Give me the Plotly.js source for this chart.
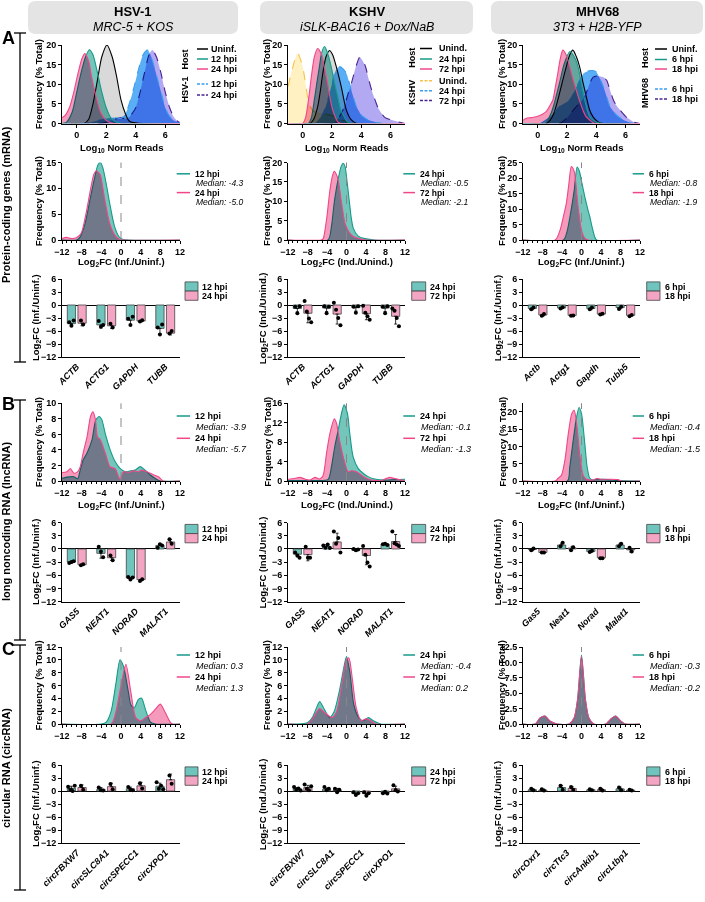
<!DOCTYPE html>
<html><head><meta charset="utf-8">
<script src="https://cdn.plot.ly/plotly-3.0.1.min.js"></script>
<style>
html,body{margin:0;padding:0;background:#fff;}
#chart{width:705px;height:902px;}
.js-fill{mix-blend-mode:multiply;}
</style></head><body><div id="chart"></div>
<script>
// ---------------- DATA ----------------
const virusNames = ['HSV-1','KSHV','MHV68'];
const cellLines = ['MRC-5 + KOS','iSLK-BAC16 + Dox/NaB','3T3 + H2B-YFP'];
const timeLabels = [['12 hpi','24 hpi'],['24 hpi','72 hpi'],['6 hpi','18 hpi']];
const refLabels = ['Uninf.','Unind.','Uninf.'];
const fcTitles = ['Log<sub>2</sub>FC (Inf./Uninf.)','Log<sub>2</sub>FC (Ind./Unind.)','Log<sub>2</sub>FC (Inf./Uninf.)'];
const medMRNA = [['-4.3','-5.0'],['-0.5','-2.1'],['-0.8','-1.9']];
const medLnc  = [['-3.9','-5.7'],['-0.1','-1.3'],['-0.4','-1.5']];
const medCirc = [['0.3','1.3'],['-0.4','0.2'],['-0.3','-0.2']];
const rowLabels = ['Protein-coding genes (mRNA)','long noncoding RNA (lncRNA)','circular RNA (circRNA)'];

// Row A, panel 1: Log10 normalized reads distributions
const hsvUninfX=[-1,0.5,0.8,1.1,1.4,1.7,2.05,2.4,2.7,3.0,3.3,3.6,7];
const hsvUninfY=[0,0,1,5,11,17,20,17,12,6,2.5,0.5,0];
const hsvH12X=[-1,-0.7,-0.3,0,0.3,0.6,0.85,1.1,1.4,1.7,2.0,2.3,2.7,3.2,7];
const hsvH12Y=[0,0.3,3,8,13,17,18.8,17.5,13,8,4,1.5,0.3,0,0];
const hsvH24X=[-1,-0.8,-0.5,-0.2,0.1,0.35,0.55,0.8,1.0,1.3,1.6,2.0,2.5,7];
const hsvH24Y=[1.5,2,4,8,13,16.5,17.8,16,12,7,3,0.8,0,0];
const hsvV12X=[-1,0.5,1.0,1.5,2.0,2.5,3.0,3.3,3.6,3.9,4.2,4.5,4.8,5.0,5.25,5.5,5.75,6.0,6.3,6.6,7];
const hsvV12Y=[0,0,0.3,0.8,1.2,1.5,1.3,2.5,5.5,9.5,14,17.5,18.7,17.5,14.5,11,7.5,4,1.8,0.7,0.2];
const hsvV24X=[-1,1.5,2.0,2.5,3.0,3.3,3.6,3.8,4.0,4.3,4.6,4.9,5.13,5.4,5.7,6.0,6.3,6.6,6.9,7];
const hsvV24Y=[0,0,0.3,1.0,1.5,1.2,1.8,2.8,4,8,13,17.5,18.7,17,13,8,4,1.5,0.4,0.2];

const kshvUnindX=[-1,0.5,0.75,1.03,1.2,1.38,1.6,1.84,2.05,2.3,2.64,2.99,3.33,3.7,7];
const kshvUnindY=[0,0,1,4.3,8,12.8,17,18.6,17.5,14.5,9.4,3.4,0.9,0,0];
const kshvH24X=[-1,0.4,0.6,0.8,1.0,1.15,1.3,1.5,1.7,1.95,2.2,2.4,2.6,2.85,3.1,7];
const kshvH24Y=[0,0,1.5,6,11,14.5,18,19.6,18,14.5,10,6.8,3.5,1.7,0.3,0];
const kshvH72X=[-1,0,0.2,0.4,0.6,0.8,1.03,1.3,1.5,1.72,1.9,2.06,2.25,2.4,2.6,7];
const kshvH72Y=[0,0,1.5,6,12,17,19.1,17.5,14,10,6,3.4,1.5,0.4,0,0];
const kshvVUnindX=[-1,-0.7,-0.34,0,0.23,0.46,0.8,1.26,1.95,2.4,2.85,3.3,7];
const kshvVUnindY=[9.4,14,17.9,14.5,9.4,4.7,3.0,2.6,2.1,1.3,0.7,0,0];
const kshvV24X=[-1,0.8,1.26,1.5,1.72,2.0,2.18,2.35,2.53,2.75,2.99,3.33,3.68,4.03,4.49,4.95,5.5,7];
const kshvV24Y=[0,0,1.7,3.5,6,10,12.8,14,14.5,14,12.8,8.5,4.3,2.1,0.9,0.4,0,0];
const kshvV72X=[-1,2.0,2.4,2.85,3.1,3.33,3.68,3.91,4.26,4.5,4.72,5.0,5.18,5.64,6.1,6.56,7];
const kshvV72Y=[0,0,1,4.3,7.5,10.2,14.9,16.9,14.9,11.5,8.5,5.5,3.8,1.5,0.9,0.4,0];

const mhvUninfX=[-1,0.6,0.85,1.1,1.38,1.65,1.96,2.2,2.41,2.65,2.87,3.1,3.33,3.55,3.79,4.14,4.5,7];
const mhvUninfY=[0,0,0.8,2.5,6,10,14.5,17.5,18.7,17,14.5,10.5,6.8,3.5,1.7,0.4,0,0];
const mhvH6X=[-1,0.5,0.92,1.2,1.49,1.8,2.19,2.5,2.76,3.0,3.22,3.56,4.0,4.5,7];
const mhvH6Y=[0,0,2.6,6,10.2,15,18.3,17,14.5,10,6,1.7,0.4,0,0];
const mhvH18X=[-1,-0.8,-0.4,-0.11,0.3,0.58,0.8,1.04,1.2,1.38,1.55,1.72,1.95,2.19,2.4,2.64,2.85,3.1,3.3,3.56,3.9,7];
const mhvH18Y=[0.8,1.3,1.5,1.7,2.3,3,4.3,6,9,12.8,16.5,18.7,17.5,14.5,11.5,8.5,6,3.4,1.8,0.9,0,0];
const mhvV6X=[-1,0.2,0.58,1.0,1.49,1.9,2.19,2.5,2.87,3.15,3.45,3.75,4.0,4.25,4.49,4.75,4.95,5.41,5.87,6.2,6.6,7];
const mhvV6Y=[0,0,0.9,2.2,4.3,5.3,6,8,11,12.8,13.4,13.5,13.2,11.5,9.4,6.5,4.3,2.1,0.9,0.4,0,0];
const mhvV18X=[-1,1.5,1.96,2.3,2.64,2.95,3.22,3.56,3.8,4.03,4.3,4.5,4.72,4.95,5.18,5.4,5.64,6.1,6.56,7];
const mhvV18Y=[0,0,1.3,2.8,4.3,5.5,6.8,10.2,11.8,12.1,12,11.8,11,8.5,6,4.5,3.4,1.5,0.4,0];

// Row A, panel 2: mRNA Log2FC distributions
const mHsv12X=[-12,-9,-8.3,-7.3,-6.3,-5.3,-4.7,-4.2,-3.7,-3.3,-2.8,-2.3,-1.3,-0.3,0.5,12];
const mHsv12Y=[0,0,0.6,3.2,7.8,12.3,14.5,15,14,12.3,9.8,7.1,2.6,0.5,0.1,0];
const mHsv24X=[-12,-11.1,-10.1,-9.1,-8.1,-7.1,-6.1,-5.5,-5.0,-4.5,-4.2,-3.3,-2.3,-1.3,-0.3,0.5,12];
const mHsv24Y=[0.3,0.5,0.3,0.45,1.3,5.2,10.3,12.8,13.4,13,12.6,7.8,3.2,1,0.1,0,0];
const mKshv24X=[-12,-3.8,-3.1,-2.45,-1.6,-1.1,-0.7,-0.3,0,0.35,0.7,1.0,1.4,2.4,3.8,5.8,12];
const mKshv24Y=[0,0,3.4,10.3,16.4,19,19.8,19,16.4,12.5,8.6,5.5,3,1,0.35,0,0];
const mKshv72X=[-12,-5.2,-4.8,-4.1,-3.4,-2.9,-2.5,-2.1,-1.7,-1.0,-0.3,0.7,1.7,3.1,4,12];
const mKshv72Y=[0,0,0.3,5.2,12.9,16.5,17.7,17,15.5,9.5,4.3,1.7,0.7,0.2,0,0];
const mMhv6X=[-12,-3.7,-3.0,-2.2,-1.5,-0.9,-0.4,0.0,0.67,1.2,1.7,2.2,2.7,3.1,12];
const mMhv6Y=[0,0,2.5,9,16,23.5,22,19,14,10.5,7.5,4,1.1,0,0];
const mMhv18X=[-12,-5.4,-4.4,-3.8,-3.1,-2.6,-2.1,-1.7,-1.4,-0.7,0,0.7,1.3,12];
const mMhv18Y=[0,0,3.2,7,11.9,18,23.7,23,21.5,10.8,3.2,0.5,0,0];

// Row B, panel 1: lncRNA Log2FC distributions
const lHsv12X=[-12,-11,-9.6,-8.8,-8.3,-7.7,-6.9,-5.9,-5.1,-4.4,-3.9,-3.2,-2.2,-1.2,-0.15,0.9,1.9,2.9,3.9,4.9,5.9,6.9,8,12];
const lHsv12Y=[0.35,0.5,0.55,0.3,1.4,2.7,3.6,5.3,7.9,8.3,7.9,6.1,4,2.5,1.6,1.2,1.3,1.4,1.85,1.4,0.8,0.35,0,0];
const lHsv24X=[-12,-11,-10.3,-9.6,-8.8,-8.3,-7.7,-6.9,-6.2,-5.7,-5.2,-4.8,-4.2,-3.2,-2.2,-1.2,-0.5,-0.15,0.5,1.5,2.5,3.6,4.2,5.3,6.6,7.6,8.6,12];
const lHsv24Y=[1.1,1.2,1.6,1.0,1.2,1.8,3.6,5.7,8.3,8.9,7.9,5.7,5.3,3.6,1.8,1.6,0.55,0.2,1.2,1.1,1.3,1.2,1.4,1.2,0.8,0.55,0,0];
const lKshv24X=[-12,-6,-3.76,-3.08,-2.4,-1.7,-1.03,-0.49,0.19,0.67,1.35,2.38,3.4,4.43,5.79,7.84,10,12];
const lKshv24Y=[0.1,0.1,0.35,3.0,7.1,10.5,13.9,15.7,13.9,9.8,5.0,2.6,1.6,0.9,0.4,0.2,0.3,0.35];
const lKshv72X=[-12,-10.57,-9.55,-8.53,-7.5,-6.48,-5.46,-4.78,-4.1,-3.4,-2.5,-2.05,-1.37,-0.49,0.33,1.0,2.04,3.06,4.08,5.1,7.15,8.2,8.86,9.88,11.25,12];
const lKshv72Y=[0.35,0.55,0.75,0.4,0.2,0.75,0.4,1.2,5.7,9.8,12.8,11.9,8.1,4.3,1.9,2.1,1.9,1.2,0.55,0.2,0.1,0.55,0.75,0.5,0.2,0.1];
const lMhv6X=[-12,-2.9,-2.4,-1.7,-1.0,-0.5,0.0,0.67,1.15,1.7,2.4,3.4,4.4,5.8,7.8,12];
const lMhv6Y=[0,0,4.1,11.8,18.6,21.3,19.5,10.9,4.1,0.8,0.3,0.5,0.5,0.3,0.1,0];
const lMhv18X=[-12,-5.4,-4.8,-4.1,-3.4,-2.7,-2.0,-1.5,-1.0,-0.3,0.33,1.0,2.4,3.1,4.1,5.8,7.5,8.2,12];
const lMhv18Y=[0,0,0.8,1.7,6.1,13.8,19.5,20.5,16.6,7.0,1.7,0.5,0.3,0.7,0.5,0.5,0.4,0,0];

// Row C, panel 1: circRNA Log2FC distributions
const cHsv12X=[-12,-4,-3,-2,-1,-0.2,0.5,1.5,2,2.7,3.5,4.2,5,6,7,12];
const cHsv12Y=[0,0,0.3,2,6.5,10,9,5,3,2.5,3.8,4,2.2,0.3,0,0];
const cHsv24X=[-12,-2,-1,0,1,2,3,4,5,6,7,8,9,10,10.5,12];
const cHsv24Y=[0,0,2,6,9.3,5,1,0.5,1.0,1.5,2.3,3.1,1.8,0.3,0,0];
const cKshv24X=[-12,-8,-7,-6,-5.5,-4.5,-3.5,-2.5,-1.5,-0.5,0,0.7,1.5,2.5,3.5,4.5,5.5,7,12];
const cKshv24Y=[0,0.2,1,2.8,3.5,2.2,1,2,5,9,10.5,8,3,1,0.5,1,0.5,0,0];
const cKshv72X=[-12,-8,-7,-6,-5.5,-4.5,-3,-2,-1,0,0.5,1.2,2,3,4,5,6,12];
const cKshv72Y=[0,0,0.8,2,2.4,1.8,1,2,6,10,10.3,7,2.5,0.5,0.8,0.5,0,0];
const cMhv6X=[-12,-9.5,-8.5,-7.5,-6.5,-5,-2.5,-1.5,-0.8,0,0.8,1.5,2.5,5,6,7,8,9,12];
const cMhv6Y=[0,0,1,1.3,0.5,0,0,1,4,11.2,4,1,0,0,0.8,1.3,0.5,0,0];
const cMhv18X=[-12,-9.5,-8.5,-7.5,-6.5,-5,-2.5,-1.5,-0.8,0,0.8,1.5,2.5,5,6,7,8,9,12];
const cMhv18Y=[0,0,1,1.3,0.5,0,0,1,4,11,4,1,0,0,0.8,1.3,0.5,0,0];

// Bar charts (mean, replicates, SD)
const mrnaCats=[['ACTB','ACTG1','GAPDH','TUBB'],['ACTB','ACTG1','GAPDH','TUBB'],['Actb','Actg1','Gapdh','Tubb5']];
const mrnaMean1=[[-4.3,-4.6,-3.5,-5.4],[-0.8,-0.7,-0.6,-0.7],[-0.8,-0.7,-0.8,-0.6]];
const mrnaMean2=[[-4.2,-4.8,-3.7,-6.5],[-1.9,-2.1,-2.0,-2.6],[-2.3,-2.4,-2.1,-2.4]];
const mrnaRep1=[[[-4.0,-4.8,-3.6],[-3.7,-5.0,-4.6],[-3.2,-4.6,-2.7],[-5.2,-6.8,-4.5]],
  [[-0.4,-1.9,-0.3],[-0.3,-1.9,-0.4],[-0.4,-1.8,-0.3],[-0.4,-1.9,-0.3]],
  [[-1.0,-0.6],[-0.8,-0.5],[-1.0,-0.6],[-0.9,-0.4]]];
const mrnaRep2=[[[-3.6,-4.5],[-4.3,-5.2],[-3.8,-3.5],[-6.6,-6.0]],
  [[0.9,-1.5,-3.1,-4.0],[0.5,-1.1,-3.0,-4.7],[-0.2,-1.8,-2.6,-3.4],[-0.8,-1.3,-3.0,-4.9]],
  [[-2.5,-2.1],[-2.5,-2.4],[-2.2,-2.0],[-2.6,-2.3]]];
const mrnaSd1=[[0.6,0.7,1.0,1.2],[0.8,0.8,0.8,0.8],[0.3,0.2,0.3,0.3]];
const mrnaSd2=[[0.6,0.6,0.2,0.4],[2.2,2.3,1.4,1.8],[0.3,0.1,0.1,0.2]];

const lncCats=[['GAS5','NEAT1','NORAD','MALAT1'],['GAS5','NEAT1','NORAD','MALAT1'],['Gas5','Neat1','Norad','Malat1']];
const lncMean1=[[-3.0,-1.0,-6.6,0.8],[-1.2,0.6,-0.3,1.1],[-0.1,0.9,-0.6,0.9]];
const lncMean2=[[-3.6,-2.0,-7.0,1.6],[-1.3,1.6,-1.5,1.7],[-0.8,0.2,-2.0,-0.2]];
const lncRep1=[[[-3.2,-3.0,-2.8],[0.5,-0.6,-1.9],[-6.4,-7.0,-6.5],[0.3,1.1,0.8]],
  [[-0.8,-1.5,-2.0],[0.8,0.3,1.0,0.2],[0.0,-0.3,-0.1],[1.1,1.2,0.9]],
  [[-0.3,0.1],[0.6,1.4],[-0.7,-0.4],[0.6,1.2]]];
const lncRep2=[[[-3.7,-3.5],[-1.5,-2.6],[-7.3,-6.9],[2.2,1.2]],
  [[0.5,-2.0,-2.0],[4.0,1.2,2.5,-0.8],[0.7,-1.3,-3.1,-4.0],[4.0,1.3,1.0,0.7]],
  [[-0.8,-0.8],[-0.3,0.4],[-2.1,-2.1],[0.3,-0.6]]];
const lncSd1=[[0.2,1.1,0.3,0.4],[0.6,0.4,0.2,0.2],[0.3,0.4,0.2,0.4]];
const lncSd2=[[0.1,0.6,0.3,0.6],[1.4,2.0,2.1,1.6],[0.1,0.4,0.1,0.5]];

const circCats=[['circFBXW7','circSLC8A1','circSPECC1','circXPO1'],['circFBXW7','circSLC8A1','circSPECC1','circXPO1'],['circOxr1','circTtc3','circAnkib1','circLtbp1']];
const circMean1=[[0.6,0.4,0.5,1.1],[0.5,0.4,-0.6,-0.4],[0.3,0.8,0.3,0.5]];
const circMean2=[[0.8,1.0,1.2,2.6],[0.8,0.2,-0.6,0.5],[0.2,0.6,0.3,0.2]];
const circRep1=[[[1.0,0.3,0.0,1.2],[0.8,0.2,0.1],[0.9,0.3,0.2],[2.0,0.5,1.2,0.4]],
  [[0.9,0.3,0.6,0.1],[0.9,0.2,0.5],[-0.3,-0.9,-0.5],[-0.5,-0.2,-0.6]],
  [[0.5,0.2],[1.2,0.3],[0.4,0.2],[0.8,0.2]]];
const circRep2=[[[1.2,0.3],[1.6,0.4],[1.8,0.6],[3.6,1.7]],
  [[1.5,0.5,0.2,1.1],[0.5,-0.3,0.3],[-0.3,-1.1,-0.5],[1.3,0.2,-0.1]],
  [[0.4,0.1],[0.9,0.3],[0.5,0.1],[0.3,0.1]]];
const circSd1=[[0.5,0.4,0.4,0.7],[0.3,0.3,0.3,0.2],[0.2,0.5,0.1,0.4]];
const circSd2=[[0.6,0.8,0.8,1.3],[0.5,0.4,0.4,0.6],[0.2,0.4,0.3,0.1]];

// ---------------- STYLE ----------------
const FONT='"Liberation Sans", Arial, sans-serif';
const W=705, H=902;
const C = {
  black:'#000000', gray:'#d9d9d9',
  teal:'#179a8b', tealFill:'#74c6bb',
  pink:'#f0478a', pinkFill:'#f59abb',
  blue:'#3a9ff0', blueFill:'#5aaef5',
  purple:'#4a2490', purpleFill:'#b3a8f2',
  yellow:'#f7c24a', yellowFill:'#fff1c1',
  tealBar:'#6fc5bd', pinkBar:'#f5a5c4'
};
const colX=[[62,180],[288,405],[523,640]];
const rowY={A1:[45,123.5],A2:[162.5,240],A3:[279,357],B1:[403.3,481],B2:[522.7,601.5],C1:[647,724],C2:[765,843]};

const P=x=>x/W, Q=y=>1-y/H;
const traces=[], shapes=[], annotations=[];
const layout={width:W,height:H,margin:{l:0,r:0,t:0,b:0},paper_bgcolor:'#fff',plot_bgcolor:'rgba(0,0,0,0)',
  showlegend:false,barmode:'overlay',font:{family:FONT,color:'#000'}};
const tickF={family:FONT,size:9,color:'#000',weight:'bold'};
const axBase={showline:true,linecolor:'#000',linewidth:1,ticks:'outside',ticklen:3,tickwidth:1,tickcolor:'#000',
  showgrid:false,zeroline:false,tickfont:tickF,fixedrange:true};

let nAx=0;
function newPanel(col,row,xo,yo){
  nAx++; const s=nAx===1?'':String(nAx);
  layout['xaxis'+s]=Object.assign({},axBase,{domain:[P(colX[col][0]),P(colX[col][1])],anchor:'y'+s},xo);
  layout['yaxis'+s]=Object.assign({},axBase,{domain:[Q(rowY[row][1]),Q(rowY[row][0])],anchor:'x'+s},yo);
  return {x:'x'+s,y:'y'+s};
}
function txt(x,y,text,o){
  const a=Object.assign({xref:'paper',yref:'paper',x:P(x),y:Q(y),text:text,showarrow:false,xanchor:'left',yanchor:'middle',
    font:{family:FONT,size:9,color:'#000',weight:'bold'}},o||{});
  annotations.push(a);
}
function pline(x0,y0,x1,y1,color,width,dash){
  shapes.push({type:'line',xref:'paper',yref:'paper',x0:P(x0),y0:Q(y0),x1:P(x1),y1:Q(y1),line:{color:color,width:width||1,dash:dash||'solid'}});
}
function prect(x0,y0,x1,y1,fill,lc){
  shapes.push({type:'rect',xref:'paper',yref:'paper',x0:P(x0),y0:Q(y1),x1:P(x1),y1:Q(y0),fillcolor:fill,line:{color:lc,width:0.8}});
}
function roundBox(x0,y0,x1,y1,r,fill){
  const X=v=>P(v).toFixed(5), Y=v=>Q(v).toFixed(5);
  const path=`M ${X(x0+r)},${Y(y0)} L ${X(x1-r)},${Y(y0)} Q ${X(x1)},${Y(y0)} ${X(x1)},${Y(y0+r)} L ${X(x1)},${Y(y1-r)} Q ${X(x1)},${Y(y1)} ${X(x1-r)},${Y(y1)} L ${X(x0+r)},${Y(y1)} Q ${X(x0)},${Y(y1)} ${X(x0)},${Y(y1-r)} L ${X(x0)},${Y(y0+r)} Q ${X(x0)},${Y(y0)} ${X(x0+r)},${Y(y0)} Z`;
  shapes.push({type:'path',xref:'paper',yref:'paper',path:path,fillcolor:fill,line:{width:0},layer:'below'});
}
function yTitle(x,row,text){
  const [t,b]=rowY[row];
  txt(x,(t+b)/2,text,{xanchor:'center',textangle:-90,font:{family:FONT,size:9.5,color:'#000',weight:'bold'}});
}

function densPanel(col,row,xo,yo,series){
  const ax=newPanel(col,row,xo,yo);
  series.forEach(s=>{
    traces.push({type:'scatter',mode:'lines',x:s.x,y:s.y,xaxis:ax.x,yaxis:ax.y,fill:'tozeroy',fillcolor:s.fill,
      line:{color:s.line,width:1.1,dash:s.dash||'solid',shape:'spline',smoothing:0.7},hoverinfo:'skip'});
  });
  return ax;
}
function zeroDash(ax){
  shapes.push({type:'line',xref:ax.x,yref:ax.y+' domain',x0:0,x1:0,y0:0,y1:1,line:{color:'#888',width:1,dash:'dash'}});
}
const fcX={range:[-12,12],tickvals:[-12,-8,-4,0,4,8,12],minor:{dtick:1,ticks:'outside',ticklen:2,tickcolor:'#000'}};

function barPanel(col,row,cats,m1,r1,e1,m2,r2,e2){
  const ax=newPanel(col,row,
    {range:[-0.5,3.5],tickvals:[0,1,2,3],ticktext:cats,tickangle:-45,ticks:'',
     tickfont:{family:FONT,size:9,color:'#000',weight:'bold',style:'italic'}},
    {range:[-12,6],tickvals:[-12,-9,-6,-3,0,3,6],zeroline:true,zerolinecolor:'#000',zerolinewidth:1});
  const off=0.18, bw=0.28, jit=0.075;
  [[m1,r1,e1,C.tealBar,-off],[m2,r2,e2,C.pinkBar,off]].forEach(([m,r,e,color,o])=>{
    traces.push({type:'bar',x:cats.map((c,i)=>i+o),y:m,width:bw,xaxis:ax.x,yaxis:ax.y,
      marker:{color:color,line:{color:'#444',width:0.8}},hoverinfo:'skip',
      error_y:{type:'data',symmetric:false,array:m.map((v,i)=>v>=0?e[i]:0),arrayminus:m.map((v,i)=>v<0?e[i]:0),
        color:'#000',thickness:0.8,width:1.5}});
    const xs=[],ys=[];
    r.forEach((reps,i)=>reps.forEach((v,j)=>{xs.push(i+o+(j-(reps.length-1)/2)*jit);ys.push(v);}));
    traces.push({type:'scatter',mode:'markers',x:xs,y:ys,xaxis:ax.x,yaxis:ax.y,
      marker:{color:'#000',size:4},hoverinfo:'skip'});
  });
  return ax;
}

// ---------------- BUILD ----------------
const boxX=[[28,238],[260,473],[491,703]];
for(let c=0;c<3;c++){
  roundBox(boxX[c][0],1,boxX[c][1],34,8,'#e4e4e4');
  const cx=(boxX[c][0]+boxX[c][1])/2;
  txt(cx,11,virusNames[c],{xanchor:'center',font:{family:FONT,size:13,color:'#000',weight:'bold'}});
  txt(cx,26.5,cellLines[c],{xanchor:'center',font:{family:FONT,size:12.5,color:'#000',style:'italic'}});
}

const a1y={range:[0,20],tickvals:[0,5,10,15,20]};
const a1x={range:[-1,7],tickvals:[0,2,4,6]};
densPanel(0,'A1',a1x,a1y,[
  {x:hsvUninfX,y:hsvUninfY,line:C.black,fill:C.gray},
  {x:hsvV24X,y:hsvV24Y,line:C.purple,fill:C.purpleFill,dash:'dash'},
  {x:hsvV12X,y:hsvV12Y,line:C.blue,fill:C.blueFill,dash:'dash'},
  {x:hsvH12X,y:hsvH12Y,line:C.teal,fill:C.tealFill},
  {x:hsvH24X,y:hsvH24Y,line:C.pink,fill:C.pinkFill}]);
densPanel(1,'A1',a1x,a1y,[
  {x:kshvVUnindX,y:kshvVUnindY,line:C.yellow,fill:C.yellowFill,dash:'dash'},
  {x:kshvUnindX,y:kshvUnindY,line:C.black,fill:C.gray},
  {x:kshvV72X,y:kshvV72Y,line:C.purple,fill:C.purpleFill,dash:'dash'},
  {x:kshvV24X,y:kshvV24Y,line:C.blue,fill:C.blueFill,dash:'dash'},
  {x:kshvH24X,y:kshvH24Y,line:C.teal,fill:C.tealFill},
  {x:kshvH72X,y:kshvH72Y,line:C.pink,fill:C.pinkFill}]);
densPanel(2,'A1',a1x,a1y,[
  {x:mhvUninfX,y:mhvUninfY,line:C.black,fill:C.gray},
  {x:mhvV18X,y:mhvV18Y,line:C.purple,fill:C.purpleFill,dash:'dash'},
  {x:mhvV6X,y:mhvV6Y,line:C.blue,fill:C.blueFill,dash:'dash'},
  {x:mhvH6X,y:mhvH6Y,line:C.teal,fill:C.tealFill},
  {x:mhvH18X,y:mhvH18Y,line:C.pink,fill:C.pinkFill}]);

const a2ymax=[15,20,25];
const a2data=[[mHsv12X,mHsv12Y,mHsv24X,mHsv24Y],[mKshv24X,mKshv24Y,mKshv72X,mKshv72Y],[mMhv6X,mMhv6Y,mMhv18X,mMhv18Y]];
for(let c=0;c<3;c++){
  const d=a2data[c];
  const ax=densPanel(c,'A2',fcX,{range:[0,a2ymax[c]],dtick:5},[
    {x:d[0],y:d[1],line:C.teal,fill:C.tealFill},{x:d[2],y:d[3],line:C.pink,fill:C.pinkFill}]);
  zeroDash(ax);
}
for(let c=0;c<3;c++) barPanel(c,'A3',mrnaCats[c],mrnaMean1[c],mrnaRep1[c],mrnaSd1[c],mrnaMean2[c],mrnaRep2[c],mrnaSd2[c]);

const b1y=[{range:[0,10],dtick:2},{range:[0,16],dtick:4},{range:[0,22.5],tickvals:[0,5,10,15,20]}];
const b1data=[[lHsv12X,lHsv12Y,lHsv24X,lHsv24Y],[lKshv24X,lKshv24Y,lKshv72X,lKshv72Y],[lMhv6X,lMhv6Y,lMhv18X,lMhv18Y]];
for(let c=0;c<3;c++){
  const d=b1data[c];
  const ax=densPanel(c,'B1',fcX,b1y[c],[
    {x:d[0],y:d[1],line:C.teal,fill:C.tealFill},{x:d[2],y:d[3],line:C.pink,fill:C.pinkFill}]);
  zeroDash(ax);
}
for(let c=0;c<3;c++) barPanel(c,'B2',lncCats[c],lncMean1[c],lncRep1[c],lncSd1[c],lncMean2[c],lncRep2[c],lncSd2[c]);

const c1y=[{range:[0,12],dtick:2},{range:[0,12],dtick:2},{range:[0,12.5],dtick:2.5,tickformat:'.1f'}];
const c1data=[[cHsv12X,cHsv12Y,cHsv24X,cHsv24Y],[cKshv24X,cKshv24Y,cKshv72X,cKshv72Y],[cMhv6X,cMhv6Y,cMhv18X,cMhv18Y]];
for(let c=0;c<3;c++){
  const d=c1data[c];
  const ax=densPanel(c,'C1',fcX,c1y[c],[
    {x:d[0],y:d[1],line:C.teal,fill:C.tealFill},{x:d[2],y:d[3],line:C.pink,fill:C.pinkFill}]);
  zeroDash(ax);
}
for(let c=0;c<3;c++) barPanel(c,'C2',circCats[c],circMean1[c],circRep1[c],circSd1[c],circMean2[c],circRep2[c],circSd2[c]);

// ---------------- AXIS TITLES ----------------
const freqX=[38,266.7,501.7], fcTX=[36,263.3,498.3];
for(let c=0;c<3;c++){
  ['A1','A2','B1','C1'].forEach(r=>yTitle(freqX[c],r,'Frequency (% Total)'));
  ['A3','B2','C2'].forEach(r=>yTitle(fcTX[c],r,fcTitles[c]));
  const cx=(colX[c][0]+colX[c][1])/2;
  const tf={xanchor:'center',font:{family:FONT,size:9.5,color:'#000',weight:'bold'}};
  txt(cx,148,'Log<sub>10</sub> Norm Reads',tf);
  txt(cx,262,fcTitles[c],tf);
  txt(cx,505,fcTitles[c],tf);
}

// ---------------- LEGENDS ----------------
const a1leg=[
  {lx:[197,208],tx:209,rot:184.5,hostY:60,virY:90,ys:[49,59,69,84,95],
   items:[[refLabels[0],C.black,'solid'],[timeLabels[0][0],C.teal,'solid'],[timeLabels[0][1],C.pink,'solid'],[timeLabels[0][0],C.blue,'dash'],[timeLabels[0][1],C.purple,'dash']]},
  {lx:[420,432],tx:437,rot:411.7,hostY:58,virY:92,ys:[48.5,59,69,80.7,90.7,100.5],
   items:[[refLabels[1],C.black,'solid'],[timeLabels[1][0],C.teal,'solid'],[timeLabels[1][1],C.pink,'solid'],[refLabels[1],C.yellow,'dash'],[timeLabels[1][0],C.blue,'dash'],[timeLabels[1][1],C.purple,'dash']]},
  {lx:[655,667],tx:669.5,rot:645,hostY:58,virY:93,ys:[49,59.5,69,89,99],
   items:[[refLabels[2],C.black,'solid'],[timeLabels[2][0],C.teal,'solid'],[timeLabels[2][1],C.pink,'solid'],[timeLabels[2][0],C.blue,'dash'],[timeLabels[2][1],C.purple,'dash']]}
];
a1leg.forEach((g,c)=>{
  g.items.forEach((it,i)=>{pline(g.lx[0],g.ys[i],g.lx[1],g.ys[i],it[1],1.5,it[2]==='dash'?'3px,1.5px':'solid');txt(g.tx,g.ys[i],it[0]);});
  txt(g.rot,g.hostY,'Host',{xanchor:'center',textangle:-90});
  txt(g.rot,g.virY,virusNames[c],{xanchor:'center',textangle:-90});
});
const medLegX=[[176.7,190,193],[403.3,415,418.3],[632.7,644,646.7]];
function medLegend(c,ys,meds,fs){
  const [l0,l1,tx]=medLegX[c];
  const bf={family:FONT,size:fs,color:'#000',weight:'bold'}, itf={family:FONT,size:fs,color:'#000',style:'italic'};
  pline(l0,ys[0],l1,ys[0],C.teal,1.5); txt(tx,ys[0],timeLabels[c][0],{font:bf});
  txt(tx+1,ys[1],'Median: '+meds[0],{font:itf});
  pline(l0,ys[2],l1,ys[2],C.pink,1.5); txt(tx,ys[2],timeLabels[c][1],{font:bf});
  txt(tx+1,ys[3],'Median: '+meds[1],{font:itf});
}
for(let c=0;c<3;c++){
  medLegend(c,[173.8,183.2,192.6,202],medMRNA[c],8.5);
  medLegend(c,[416,426.7,438.3,449.3],medLnc[c],9);
  medLegend(c,[655,665.5,677,687.5],medCirc[c],9);
}
const barLegX=[[185,198,200],[411.7,425.7,428],[646.7,660,662.5]];
function barLegend(c,y0){
  const [b0,b1,tx]=barLegX[c];
  prect(b0,y0-4.6,b1,y0+4.6,C.tealBar,'#444'); txt(tx,y0,timeLabels[c][0],{font:{family:FONT,size:8.8,color:'#000',weight:'bold'}});
  prect(b0,y0+4.6,b1,y0+13.8,C.pinkBar,'#444'); txt(tx,y0+9.4,timeLabels[c][1],{font:{family:FONT,size:8.8,color:'#000',weight:'bold'}});
}
for(let c=0;c<3;c++){ barLegend(c,286.5); barLegend(c,529); barLegend(c,771.5); }

// ---------------- ROW LABELS ----------------
const rowSpans=[[33,362,'A',38,205],[400,640,'B',404,522],[645,890,'C',649,768]];
rowSpans.forEach((r,i)=>{
  pline(20,r[0],20,r[1],'#000',1.3);
  pline(14,r[0],26,r[0],'#000',1.3);
  pline(14,r[1],26,r[1],'#000',1.3);
  txt(0,r[3],r[2],{xanchor:'left',font:{family:FONT,size:18,color:'#000',weight:'bold'}});
  txt(6,r[4],rowLabels[i],{xanchor:'center',textangle:-90,font:{family:FONT,size:11,color:'#000',weight:'bold'}});
});

layout.shapes=shapes; layout.annotations=annotations;
Plotly.newPlot('chart',traces,layout,{staticPlot:true,displayModeBar:false});
</script></body></html>
